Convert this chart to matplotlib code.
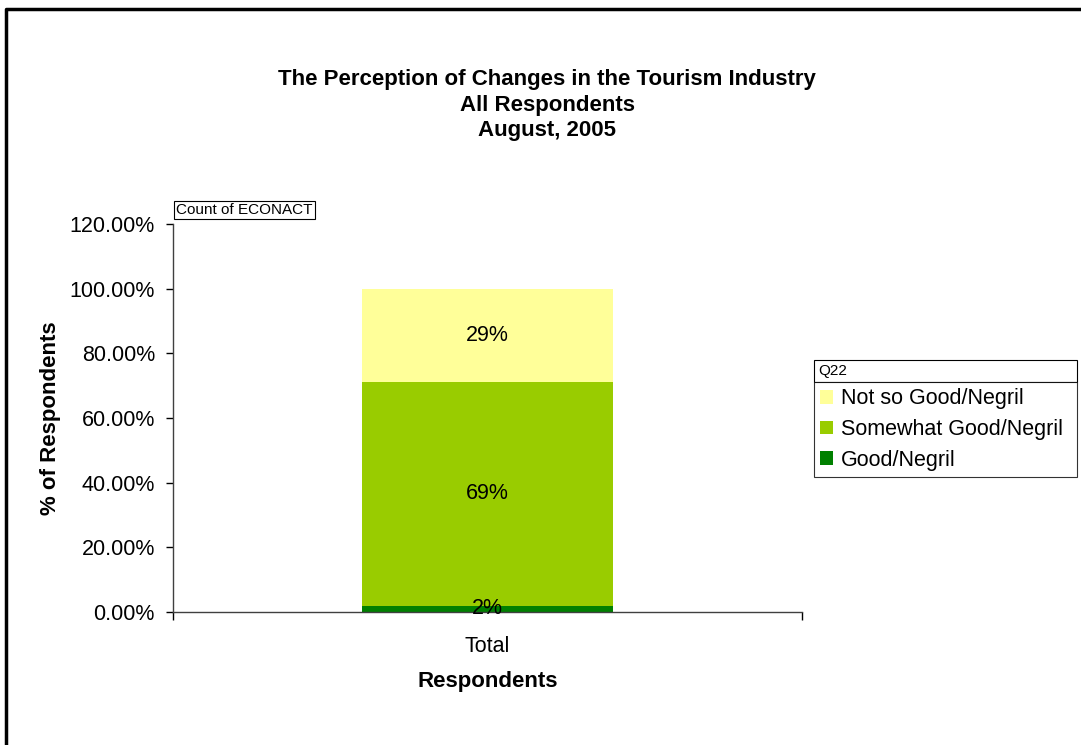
import matplotlib.pyplot as plt
from matplotlib.patches import Rectangle
from matplotlib.lines import Line2D

plt.rcParams['font.family'] = ['Liberation Sans', 'DejaVu Sans']

# Shares of respondents per answer, stacked bottom to top
categories = ['Total']
answers = ['Good/Negril', 'Somewhat Good/Negril', 'Not so Good/Negril']
shares = [0.02, 0.69, 0.29]
labels = ['2%', '69%', '29%']
colors = ['#008000', '#99CC00', '#FFFF99']
yticks = [0, 0.2, 0.4, 0.6, 0.8, 1.0, 1.2]

W, H = 1081, 745
fig = plt.figure(figsize=(W / 100, H / 100), dpi=100)
ax = fig.add_axes([173 / W, 1 - 612 / H, 629 / W, 388 / H])

# Stacked bar with value labels centred in each segment
bottom = 0
bars = []
for share, lab, col, name in zip(shares, labels, colors, answers):
    b = ax.bar(categories, [share], bottom=bottom, width=0.4, color=col, label=name)
    bars.append(b)
    ax.text(0, bottom + share / 2, lab, ha='center', va='center', fontsize=15.5)
    bottom += share

ax.set_xlim(-0.5, 0.5)
ax.set_ylim(0, 1.2)
ax.set_yticks(yticks)
ax.set_yticklabels(['%.2f%%' % (v * 100) for v in yticks], fontsize=15.5)
ax.tick_params(axis='y', direction='out', length=5, width=1, pad=8)
ax.tick_params(axis='x', length=0, labelsize=15.5, pad=17)
ax.set_xticks([-0.5, 0.5], minor=True)
ax.tick_params(axis='x', which='minor', direction='out', length=6, width=1)

for side in ['top', 'right']:
    ax.spines[side].set_visible(False)
for side in ['left', 'bottom']:
    ax.spines[side].set_linewidth(1)
    ax.spines[side].set_color('#404040')

ax.set_ylabel('% of Respondents', fontsize=16, fontweight='bold', labelpad=6)
ax.set_xlabel('Respondents', fontsize=16, fontweight='bold', labelpad=10)

fig.text(547 / W, 1 - 105 / H,
         'The Perception of Changes in the Tourism Industry\nAll Respondents\nAugust, 2005',
         ha='center', va='center', fontsize=16, fontweight='bold', linespacing=1.3)

# Field button above the value axis
fig.text(176 / W, 1 - 210 / H, 'Count of ECONACT', ha='left', va='center', fontsize=11,
         bbox=dict(boxstyle='square,pad=0.15', facecolor='white', edgecolor='black', linewidth=0.8))

# Legend with a separate title cell
handles = [bars[2], bars[1], bars[0]]
leg = fig.legend(handles, [answers[2], answers[1], answers[0]],
                 loc='upper left', bbox_to_anchor=(814 / W, 1 - 475 / H, 263 / W, 93 / H),
                 mode='expand', borderaxespad=0, fontsize=15.5, fancybox=False,
                 edgecolor='black', handlelength=0.6, handleheight=0.6,
                 handletextpad=0.35, labelspacing=0.45, borderpad=0.3)
leg.get_frame().set_linewidth(0.8)
fig.patches.append(Rectangle((814 / W, 1 - 382 / H), 263 / W, 22 / H, transform=fig.transFigure,
                             facecolor='white', edgecolor='black', linewidth=0.8))
fig.text(818 / W, 1 - 371 / H, 'Q22', ha='left', va='center', fontsize=11)

# Outer frame, only top and left edges showing
fig.lines.append(Line2D([5.5 / W, 5.5 / W, 1], [0, 1 - 8.5 / H, 1 - 8.5 / H],
                        transform=fig.transFigure, color='black', linewidth=2.5))

fig.savefig('out.png', dpi=100)
